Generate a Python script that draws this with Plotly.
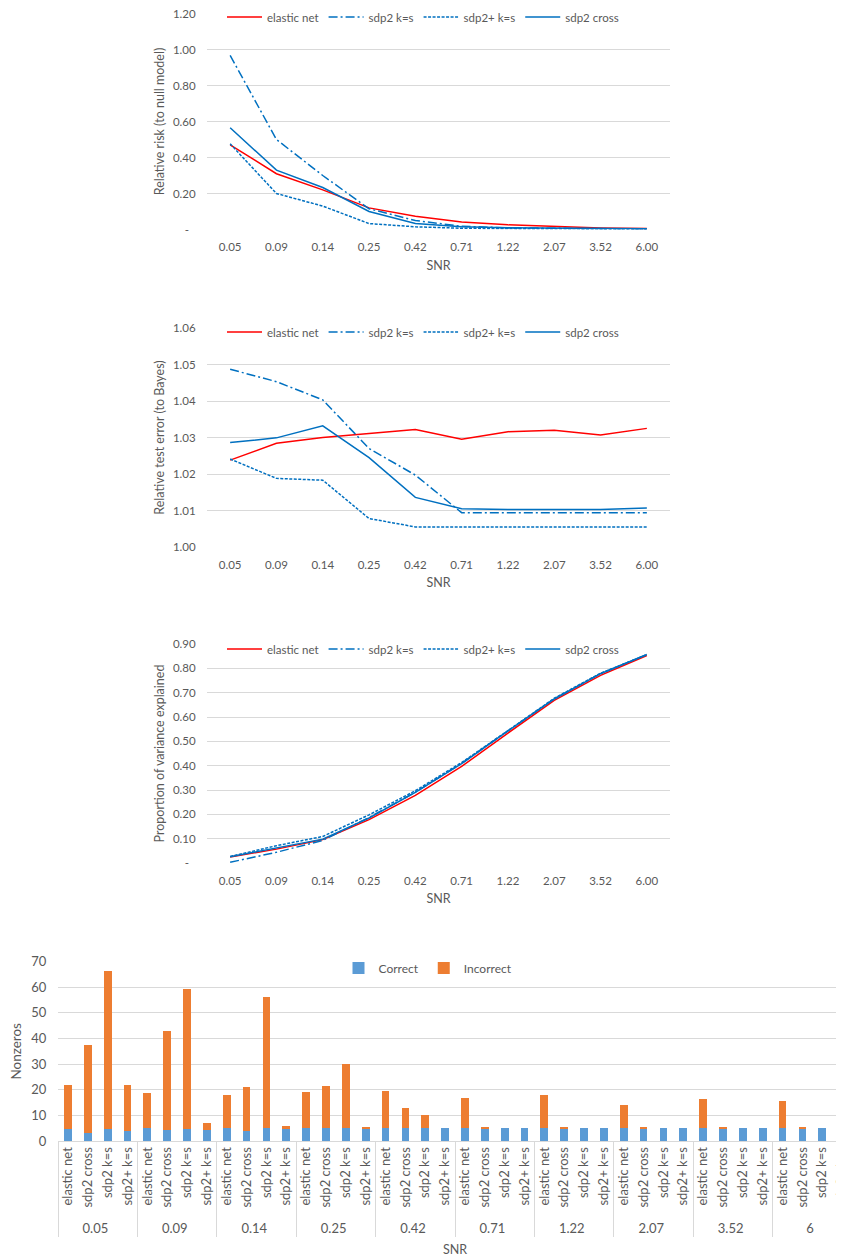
import plotly.graph_objects as go

snr_labels = ["0.05", "0.09", "0.14", "0.25", "0.42", "0.71", "1.22", "2.07", "3.52", "6.00"]
snr_groups = ["0.05", "0.09", "0.14", "0.25", "0.42", "0.71", "1.22", "2.07", "3.52", "6"]
methods = ["elastic net", "sdp2 cross", "sdp2 k=s", "sdp2+ k=s"]

# Panel 1: relative risk (to null model)
risk_enet = [0.47, 0.31, 0.22, 0.12, 0.073, 0.042, 0.026, 0.016, 0.009, 0.005]
risk_sdp2 = [0.967, 0.50, 0.30, 0.115, 0.05, 0.018, 0.009, 0.006, 0.004, 0.003]
risk_sdp2p = [0.476, 0.20, 0.13, 0.033, 0.015, 0.007, 0.005, 0.004, 0.003, 0.002]
risk_cross = [0.565, 0.33, 0.233, 0.10, 0.033, 0.015, 0.010, 0.008, 0.006, 0.004]

# Panel 2: relative test error (to Bayes)
err_enet = [1.0238, 1.0284, 1.0300, 1.0311, 1.0322, 1.0295, 1.0316, 1.0320, 1.0307, 1.0325]
err_sdp2 = [1.0487, 1.0453, 1.0403, 1.0270, 1.0197, 1.0094, 1.0094, 1.0094, 1.0094, 1.0094]
err_sdp2p = [1.0241, 1.0188, 1.0183, 1.0078, 1.0055, 1.0055, 1.0055, 1.0055, 1.0055, 1.0055]
err_cross = [1.0286, 1.0299, 1.0332, 1.0245, 1.0136, 1.0105, 1.0103, 1.0102, 1.0103, 1.0107]

# Panel 3: proportion of variance explained
pve_enet = [0.025, 0.057, 0.096, 0.178, 0.278, 0.397, 0.534, 0.668, 0.771, 0.853]
pve_sdp2 = [0.003, 0.044, 0.093, 0.187, 0.291, 0.410, 0.543, 0.674, 0.778, 0.857]
pve_sdp2p = [0.027, 0.071, 0.109, 0.198, 0.297, 0.413, 0.544, 0.677, 0.780, 0.856]
pve_cross = [0.026, 0.062, 0.098, 0.185, 0.290, 0.408, 0.543, 0.674, 0.778, 0.857]

# Panel 4: nonzeros (order per group: elastic net, sdp2 cross, sdp2 k=s, sdp2+ k=s)
nz_total = [
    21.9, 37.6, 66.2, 21.7,
    18.7, 42.9, 59.3, 6.9,
    17.8, 20.9, 56.3, 5.85,
    19.3, 21.5, 30.1, 5.2,
    19.6, 12.9, 10.3, 5.0,
    16.8, 5.3, 5.0, 5.0,
    18.0, 5.2, 5.0, 5.0,
    14.05, 5.2, 5.0, 5.0,
    16.5, 5.2, 5.0, 5.0,
    15.6, 5.2, 5.0, 5.0,
]
nz_correct = [
    4.55, 3.0, 4.55, 4.0,
    4.9, 4.2, 4.55, 4.3,
    4.9, 4.0, 4.9, 4.55,
    5.0, 5.0, 5.0, 5.0,
    5.0, 5.0, 5.0, 5.0,
    5.0, 5.0, 5.0, 5.0,
    5.0, 5.0, 5.0, 5.0,
    5.0, 5.0, 5.0, 5.0,
    5.0, 5.0, 5.0, 5.0,
    5.0, 5.0, 5.0, 5.0,
]
nz_incorrect = [round(t - c, 3) for t, c in zip(nz_total, nz_correct)]

RED = "#FF0000"
BLUE = "#0070C0"
GRID = "#D9D9D9"
TXT = "#595959"
FONT = "Lato"
CLEAR = "rgba(0,0,0,0)"

W, H = 844, 1260
OFF = 8  # page body margin offset


def xd(px):
    return (px - OFF) / W


def yd(py):
    return 1 - (py - OFF) / H


def ydom(top, bottom):
    return [yd(bottom), yd(top)]


fig = go.Figure()

panels = [
    (risk_enet, risk_sdp2, risk_sdp2p, risk_cross),
    (err_enet, err_sdp2, err_sdp2p, err_cross),
    (pve_enet, pve_sdp2, pve_sdp2p, pve_cross),
]
names = ["elastic net", "sdp2 k=s", "sdp2+ k=s", "sdp2 cross"]
styles = [
    dict(color=RED, width=1.5, dash="solid"),
    dict(color=BLUE, width=1.5, dash="9px,3px,2px,3px"),
    dict(color=BLUE, width=1.5, dash="3px,1.5px"),
    dict(color=BLUE, width=1.5, dash="solid"),
]
legnames = ["legend", "legend2", "legend3"]

for p, series in enumerate(panels):
    ax = "" if p == 0 else str(p + 1)
    for s, vals in enumerate(series):
        fig.add_trace(go.Scatter(
            x=snr_labels, y=vals, mode="lines", name=names[s],
            line=styles[s], xaxis="x" + ax, yaxis="y" + ax,
            legend=legnames[p], showlegend=True,
        ))

# bar chart
xcat = [[g for g in snr_groups for _ in methods], [m for _ in snr_groups for m in methods]]
fig.add_trace(go.Bar(x=xcat, y=nz_correct, name="Correct", marker=dict(color="#5B9BD5", line=dict(width=0)),
                     xaxis="x4", yaxis="y4", legend="legend4"))
fig.add_trace(go.Bar(x=xcat, y=nz_incorrect, name="Incorrect", marker=dict(color="#ED7D31", line=dict(width=0)),
                     xaxis="x4", yaxis="y4", legend="legend4"))

line_xdom = [xd(207), xd(670)]
tickfont = dict(family=FONT, size=11.5, color=TXT)
titlefont = dict(family=FONT, size=12.5, color=TXT)

common_x = dict(type="category", range=[-0.5, 9.5], showgrid=False, showline=False,
                ticks="outside", ticklen=7, tickcolor=CLEAR, tickfont=tickfont, automargin=False,
                title=dict(text="SNR", font=titlefont, standoff=8), domain=line_xdom, fixedrange=True)
common_y = dict(showgrid=True, gridcolor=GRID, gridwidth=1, zeroline=False, showline=False,
                ticks="outside", ticklen=8, tickcolor=CLEAR, tickfont=tickfont,
                ticklabeloverflow="allow", automargin=False, fixedrange=True)

DASH0 = "-\u2007"

layout = dict(
    width=W, height=H, margin=dict(l=0, r=0, t=0, b=0, autoexpand=False),
    paper_bgcolor="white", plot_bgcolor="white",
    font=dict(family=FONT, color=TXT),
    barmode="stack", bargap=0.61,
    xaxis=dict(common_x, anchor="y"),
    yaxis=dict(common_y, domain=ydom(13.5, 229.5), range=[0, 1.2],
               tickvals=[0, 0.2, 0.4, 0.6, 0.8, 1.0, 1.2],
               ticktext=[DASH0, "0.20", "0.40", "0.60", "0.80", "1.00", "1.20"],
               title=dict(text="Relative risk (to null model)", font=titlefont, standoff=5),
               anchor="x"),
    xaxis2=dict(common_x, anchor="y2"),
    yaxis2=dict(common_y, domain=ydom(328, 547), range=[1.0, 1.06],
                tickvals=[1.0, 1.01, 1.02, 1.03, 1.04, 1.05, 1.06],
                ticktext=["1.00", "1.01", "1.02", "1.03", "1.04", "1.05", "1.06"],
                title=dict(text="Relative test error (to Bayes)", font=titlefont, standoff=5),
                anchor="x2"),
    xaxis3=dict(common_x, anchor="y3"),
    yaxis3=dict(common_y, domain=ydom(644, 863), range=[0, 0.9],
                tickvals=[0, 0.1, 0.2, 0.3, 0.4, 0.5, 0.6, 0.7, 0.8, 0.9],
                ticktext=[DASH0, "0.10", "0.20", "0.30", "0.40", "0.50", "0.60", "0.70", "0.80", "0.90"],
                title=dict(text="Proportion of variance explained", font=titlefont, standoff=5),
                anchor="x3"),
    xaxis4=dict(type="multicategory", domain=[xd(58), 1.0], anchor="y4", range=[-0.5, 39.5],
                showgrid=False, showline=True, linecolor=GRID, linewidth=1, ticks="", automargin=False,
                tickangle=-90, tickfont=dict(family=FONT, size=13, color=TXT),
                showdividers=True, dividercolor=GRID, dividerwidth=1,
                title=dict(text="SNR", font=dict(family=FONT, size=12.5, color=TXT), standoff=9),
                fixedrange=True),
    yaxis4=dict(common_y, domain=ydom(961.7, 1141), range=[0, 70], dtick=10,
                tickfont=dict(family=FONT, size=13, color=TXT),
                title=dict(text="Nonzeros", font=dict(family=FONT, size=13.5, color=TXT), standoff=10),
                anchor="x4"),
)

leg_common = dict(orientation="h", xanchor="left", yanchor="middle", bgcolor=CLEAR,
                  font=dict(family=FONT, size=11.5, color=TXT), itemwidth=35, traceorder="normal",
                  itemclick=False, itemdoubleclick=False)
layout["legend"] = dict(leg_common, x=xd(222), y=yd(17))
layout["legend2"] = dict(leg_common, x=xd(222), y=yd(332))
layout["legend3"] = dict(leg_common, x=xd(222), y=yd(649))
layout["legend4"] = dict(leg_common, x=xd(428), xanchor="center", y=yd(968),
                         font=dict(family=FONT, size=12, color=TXT), itemwidth=30)

fig.update_layout(**layout)
fig.write_html("out.html")
